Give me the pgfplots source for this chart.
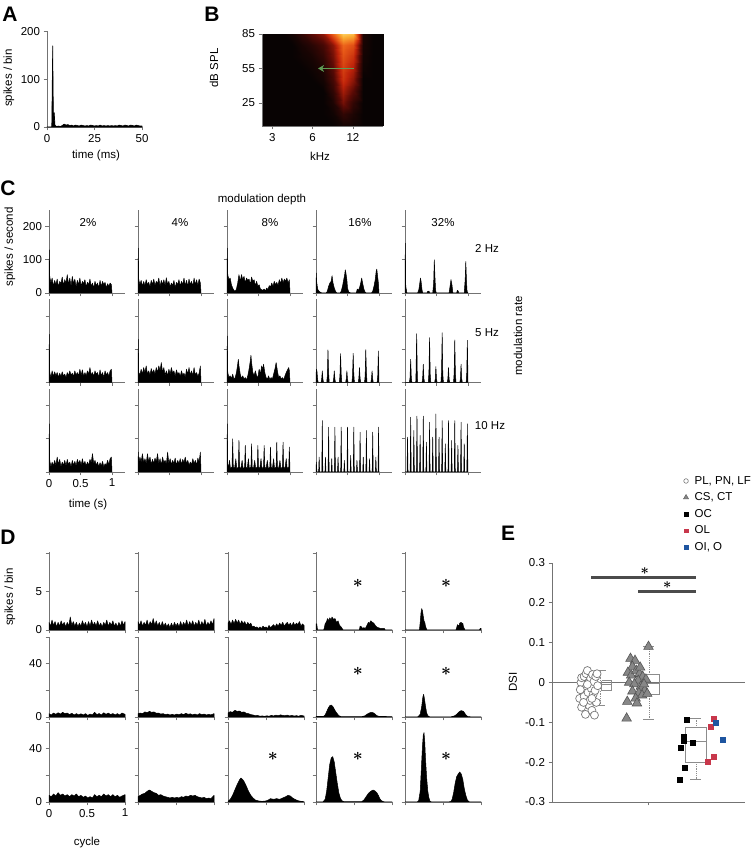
\documentclass[border=0pt]{standalone}
\usepackage{fontspec}
\setmainfont{Liberation Sans}
\usepackage{pgfplots}
\pgfplotsset{compat=1.18}
\usetikzlibrary{arrows.meta}
\definecolor{axgray}{RGB}{115,115,115}
\definecolor{sigbar}{RGB}{75,75,75}
\definecolor{olred}{RGB}{200,55,75}
\definecolor{oiblue}{RGB}{30,85,160}
\definecolor{arrowgreen}{RGB}{95,155,85}
\definecolor{trifill}{RGB}{135,135,135}
\definecolor{triedge}{RGB}{85,85,85}
\definecolor{circedge}{RGB}{120,120,120}
\definecolor{boxgray}{RGB}{140,140,140}
\newcommand{\fs}{\fontsize{11.5}{13.5}\selectfont}
\newcommand{\lett}{\fontsize{21}{21}\selectfont\bfseries}
\pgfplotsset{
  panel/.style={scale only axis, anchor=south west, axis lines=left,
    axis line style={-, draw=axgray, line width=0.9pt},
    tick align=outside, major tick length=3.5pt,
    tick style={draw=axgray, line width=0.9pt},
    enlargelimits=false, ticklabel style={font=\fs, text=black}, clip=false},
  cpan/.style={panel, width=75.6pt, height=83pt, xmin=0, xmax=1.2, ymin=0, ymax=250,
    xtick={0,0.5,1}, ytick={0,100,200}, xticklabels={,,}, yticklabels={,,}},
  dpan/.style={panel, width=76pt, xmin=0, xmax=1, ymin=0, xtick={0,0.5,1},
    xticklabels={,,}},
  dA/.style={dpan, height=78pt, ymax=10.2, ytick={0,5,10}, yticklabels={,,}},
  dB/.style={dpan, height=80pt, ymax=60, ytick={0,20,40,60}, yticklabels={,,,}},
  hist/.style={fill=black, draw=black, line width=0.5pt, line join=round},
}
\newcommand{\hpanel}[5]{\begin{axis}[at={(#1pt,#2pt)},#3]
\addplot[hist] coordinates {#4}\closedcycle;
#5
\end{axis}}
\DeclareRobustCommand{\bast}[1]{{\fontsize{#1}{#1}\selectfont\mathversion{bold}$\ast$}}
\newcommand{\astk}{\bast{19}}
\begin{document}
\begin{tikzpicture}
\useasboundingbox (0,0) rectangle (752pt,853pt);
% ---------------- A ----------------
\begin{axis}[panel, at={(47pt,726pt)}, width=95pt, height=95.5pt, xmin=0, xmax=50, ymin=0, ymax=200,
  xtick={0,25,50}, xticklabels={0,25,50}, ytick={0,100,200}, yticklabels={0,100,200}]
\addplot[hist, line width=0.6pt] coordinates {(0,0)(2.5,0)(3,170)(3.4,8)(3.8,30)(4.2,4)(5,1)(6,2)(7,1)(8,3)(9,6)(10,4)(11,5)(12,3)(13,4)(14,2)(15,4)(16,3)(17,2)(18,4)(19,3)(20,2)(21,3)(22,2)(23,4)(24,3)(25,2)(26,3)(27,2)(28,4)(29,2)(30,3)(31,2)(32,3)(33,2)(34,3)(35,2)(36,3)(37,2)(38,4)(39,3)(40,2)(41,4)(42,3)(43,2)(44,4)(45,3)(46,2)(47,4)(48,3)(49,2)(50,2)} \closedcycle;
\end{axis}
% ---------------- B ----------------
\begin{axis}[panel, at={(262pt,727pt)}, width=121pt, height=92pt, xmin=1.33, xmax=4.33, ymin=5, ymax=85,
  xtick={1.585,2.585,3.585}, xticklabels={3,6,12}, ytick={25,55,85}, yticklabels={25,55,85},
  colormap={hotmap}{rgb255(0pt)=(8,3,3) rgb255(20pt)=(90,10,5) rgb255(40pt)=(190,35,10) rgb255(60pt)=(235,95,25) rgb255(80pt)=(250,170,50) rgb255(100pt)=(255,235,130)},
  point meta min=0, point meta max=1, axis on top]
\addplot[surf, shader=interp, mesh/cols=13, point meta=explicit] table[meta=c] {
x y c
1.33 5 0
1.58 5 0
1.83 5 0
2.08 5 0
2.33 5 0
2.58 5 0
2.83 5 0
3.08 5 0
3.33 5 0.03
3.58 5 0.02
3.83 5 0
4.08 5 0
4.33 5 0
1.33 15 0
1.58 15 0
1.83 15 0
2.08 15 0
2.33 15 0
2.58 15 0
2.83 15 0
3.08 15 0.02
3.33 15 0.1
3.58 15 0.05
3.83 15 0
4.08 15 0
4.33 15 0
1.33 25 0
1.58 25 0
1.83 25 0
2.08 25 0
2.33 25 0
2.58 25 0
2.83 25 0
3.08 25 0.05
3.33 25 0.25
3.58 25 0.1
3.83 25 0
4.08 25 0
4.33 25 0
1.33 35 0
1.58 35 0
1.83 35 0
2.08 35 0
2.33 35 0
2.58 35 0
2.83 35 0
3.08 35 0.1
3.33 35 0.35
3.58 35 0.2
3.83 35 0
4.08 35 0
4.33 35 0
1.33 45 0
1.58 45 0
1.83 45 0
2.08 45 0
2.33 45 0
2.58 45 0
2.83 45 0.03
3.08 45 0.15
3.33 45 0.45
3.58 45 0.3
3.83 45 0
4.08 45 0
4.33 45 0
1.33 55 0
1.58 55 0
1.83 55 0
2.08 55 0
2.33 55 0
2.58 55 0.02
2.83 55 0.06
3.08 55 0.2
3.33 55 0.5
3.58 55 0.38
3.83 55 0.02
4.08 55 0
4.33 55 0
1.33 65 0
1.58 65 0
1.83 65 0
2.08 65 0
2.33 65 0.02
2.58 65 0.04
2.83 65 0.1
3.08 65 0.25
3.33 65 0.55
3.58 65 0.45
3.83 65 0.03
4.08 65 0
4.33 65 0
1.33 75 0
1.58 75 0
1.83 75 0
2.08 75 0
2.33 75 0.04
2.58 75 0.08
2.83 75 0.15
3.08 75 0.3
3.33 75 0.62
3.58 75 0.55
3.83 75 0.04
4.08 75 0
4.33 75 0
1.33 85 0
1.58 85 0
1.83 85 0
2.08 85 0.03
2.33 85 0.1
2.58 85 0.2
2.83 85 0.3
3.08 85 0.6
3.33 85 0.9
3.58 85 0.85
3.83 85 0.05
4.08 85 0
4.33 85 0
};
\addplot[-{Stealth[length=6pt,width=7pt]}, draw=arrowgreen, line width=1.6pt] coordinates {(3.61,55) (2.72,55)};
\end{axis}
% ---------------- C ----------------
% row 1 (2 Hz)
\hpanel{49}{560}{cpan, yticklabels={0,100,200}}{(0,0)(0.005,130)(0.012,50)(0.03,30)(0.05,45)(0.07,20)(0.09,38)(0.11,25)(0.13,42)(0.15,18)(0.17,35)(0.19,28)(0.21,48)(0.23,22)(0.25,40)(0.27,30)(0.29,55)(0.31,25)(0.33,45)(0.35,20)(0.37,50)(0.39,28)(0.41,42)(0.43,18)(0.45,38)(0.47,25)(0.49,45)(0.51,20)(0.53,35)(0.55,28)(0.57,40)(0.59,18)(0.61,32)(0.63,25)(0.65,42)(0.67,20)(0.69,30)(0.71,15)(0.73,35)(0.75,22)(0.77,30)(0.79,15)(0.81,38)(0.83,20)(0.85,35)(0.87,25)(0.89,32)(0.91,15)(0.93,28)(0.95,20)(0.97,30)(0.99,25)(1,0)}{}
\hpanel{138}{560}{cpan}{(0,0)(0.005,135)(0.012,40)(0.03,25)(0.05,38)(0.07,20)(0.09,35)(0.11,22)(0.13,40)(0.15,25)(0.17,32)(0.19,18)(0.21,38)(0.23,25)(0.25,42)(0.27,22)(0.29,35)(0.31,28)(0.33,45)(0.35,20)(0.37,38)(0.39,25)(0.41,40)(0.43,22)(0.45,46)(0.47,25)(0.49,35)(0.51,18)(0.53,30)(0.55,22)(0.57,38)(0.59,15)(0.61,32)(0.63,25)(0.65,40)(0.67,20)(0.69,35)(0.71,25)(0.73,45)(0.75,22)(0.77,38)(0.79,20)(0.81,42)(0.83,25)(0.85,35)(0.87,20)(0.89,45)(0.91,25)(0.93,40)(0.95,22)(0.97,42)(0.99,30)(1,0)}{}
\hpanel{227}{560}{cpan}{(0,0)(0.005,135)(0.012,55)(0.03,40)(0.05,45)(0.07,25)(0.09,15)(0.11,8)(0.13,5)(0.15,12)(0.17,30)(0.19,55)(0.21,35)(0.23,55)(0.25,40)(0.27,50)(0.29,30)(0.31,45)(0.33,38)(0.35,42)(0.37,25)(0.39,48)(0.41,35)(0.43,40)(0.45,22)(0.47,35)(0.49,20)(0.51,25)(0.53,12)(0.55,10)(0.57,8)(0.59,12)(0.61,6)(0.63,15)(0.65,10)(0.67,22)(0.69,18)(0.71,30)(0.73,20)(0.75,35)(0.77,25)(0.79,32)(0.81,22)(0.83,40)(0.85,28)(0.87,45)(0.89,30)(0.91,42)(0.93,35)(0.95,45)(0.97,30)(0.99,40)(1,0)}{}
\hpanel{316}{560}{cpan}{(0,0)(0.005,60)(0.01,35)(0.02,20)(0.03,10)(0.05,5)(0.07,2)(0.1,0)(0.16,0)(0.18,5)(0.2,20)(0.22,30)(0.24,35)(0.255,52)(0.27,30)(0.29,15)(0.31,5)(0.33,0)(0.38,0)(0.4,5)(0.42,20)(0.44,40)(0.455,55)(0.465,70)(0.475,60)(0.49,40)(0.5,15)(0.52,3)(0.55,0)(0.64,0)(0.655,12)(0.67,8)(0.69,15)(0.71,30)(0.725,45)(0.74,30)(0.76,12)(0.78,2)(0.8,0)(0.88,0)(0.9,5)(0.92,20)(0.94,40)(0.955,65)(0.965,72)(0.975,55)(0.99,30)(1,0)}{}
\hpanel{405}{560}{cpan}{(0,0)(0.005,150)(0.012,20)(0.03,0)(0.2,0)(0.22,10)(0.235,30)(0.245,45)(0.255,35)(0.27,10)(0.28,0)(0.35,0)(0.36,5)(0.37,4)(0.38,6)(0.39,0)(0.44,0)(0.455,30)(0.465,100)(0.475,50)(0.485,10)(0.495,0)(0.7,0)(0.715,20)(0.73,40)(0.745,25)(0.76,0)(0.82,0)(0.83,8)(0.845,6)(0.85,0)(0.94,0)(0.955,40)(0.965,95)(0.975,40)(0.985,5)(1,0)}{}
% row 2 (5 Hz)
\hpanel{49}{470.5}{cpan}{(0,0)(0.005,145)(0.012,30)(0.03,15)(0.05,35)(0.07,18)(0.09,32)(0.11,20)(0.13,30)(0.15,15)(0.17,28)(0.19,18)(0.21,32)(0.23,20)(0.25,25)(0.27,15)(0.29,30)(0.31,20)(0.33,35)(0.35,22)(0.37,28)(0.39,18)(0.41,35)(0.43,22)(0.45,30)(0.47,20)(0.49,40)(0.51,22)(0.53,38)(0.55,18)(0.57,30)(0.59,20)(0.61,35)(0.63,25)(0.65,45)(0.67,22)(0.69,30)(0.71,18)(0.73,35)(0.75,25)(0.77,30)(0.79,15)(0.81,38)(0.83,20)(0.85,30)(0.87,15)(0.89,35)(0.91,22)(0.93,30)(0.95,18)(0.97,35)(0.99,40)(1,0)}{}
\hpanel{138}{470.5}{cpan}{(0,0)(0.005,130)(0.012,30)(0.03,22)(0.05,40)(0.07,25)(0.09,45)(0.11,30)(0.13,50)(0.15,25)(0.17,35)(0.19,22)(0.21,42)(0.23,28)(0.25,38)(0.27,25)(0.29,45)(0.31,30)(0.33,50)(0.35,35)(0.37,60)(0.39,30)(0.41,45)(0.43,22)(0.45,35)(0.47,20)(0.49,40)(0.51,25)(0.53,45)(0.55,28)(0.57,35)(0.59,18)(0.61,38)(0.63,25)(0.65,30)(0.67,18)(0.69,35)(0.71,22)(0.73,28)(0.75,15)(0.77,40)(0.79,25)(0.81,45)(0.83,22)(0.85,35)(0.87,20)(0.89,45)(0.91,22)(0.93,30)(0.95,18)(0.97,28)(0.99,50)(1,0)}{}
\hpanel{227}{470.5}{cpan}{(0,0)(0.005,140)(0.012,30)(0.03,15)(0.05,20)(0.07,12)(0.09,25)(0.11,10)(0.13,15)(0.15,30)(0.17,55)(0.18,70)(0.19,50)(0.21,25)(0.23,12)(0.25,20)(0.27,10)(0.29,15)(0.31,8)(0.33,20)(0.35,40)(0.37,65)(0.38,82)(0.39,60)(0.41,30)(0.43,20)(0.45,35)(0.47,20)(0.49,15)(0.51,40)(0.53,25)(0.55,50)(0.57,40)(0.58,55)(0.6,30)(0.62,15)(0.64,10)(0.66,20)(0.68,8)(0.7,15)(0.72,10)(0.74,25)(0.76,40)(0.78,60)(0.8,35)(0.82,15)(0.84,20)(0.86,10)(0.88,15)(0.9,8)(0.92,20)(0.94,30)(0.96,38)(0.98,45)(0.99,35)(1,0)}{}
\hpanel{316}{470.5}{cpan}{(0,0)(0.005,40)(0.015,35)(0.025,10)(0.035,0)(0.08,0)(0.09,10)(0.1,35)(0.11,10)(0.12,0)(0.17,0)(0.18,20)(0.19,98)(0.2,30)(0.21,0)(0.27,0)(0.28,10)(0.29,35)(0.3,10)(0.31,0)(0.37,0)(0.38,20)(0.39,87)(0.4,25)(0.41,0)(0.47,0)(0.48,10)(0.49,35)(0.5,10)(0.51,0)(0.57,0)(0.58,20)(0.59,88)(0.6,25)(0.61,0)(0.67,0)(0.68,12)(0.69,45)(0.7,12)(0.71,0)(0.77,0)(0.78,20)(0.79,99)(0.8,30)(0.81,0)(0.87,0)(0.88,10)(0.89,35)(0.9,10)(0.91,0)(0.97,0)(0.98,20)(0.99,95)(1,0)}{}
\hpanel{405}{470.5}{cpan}{(0,0)(0.07,0)(0.08,15)(0.09,70)(0.1,15)(0.11,0)(0.17,0)(0.175,30)(0.185,147)(0.195,25)(0.2,0)(0.27,0)(0.28,12)(0.29,55)(0.3,12)(0.31,0)(0.37,0)(0.38,30)(0.39,135)(0.4,25)(0.41,0)(0.47,0)(0.48,10)(0.49,48)(0.5,10)(0.51,0)(0.57,0)(0.58,30)(0.59,150)(0.6,25)(0.61,0)(0.67,0)(0.68,10)(0.69,45)(0.7,10)(0.71,0)(0.77,0)(0.78,28)(0.79,128)(0.8,25)(0.81,0)(0.87,0)(0.88,12)(0.89,55)(0.9,12)(0.91,0)(0.97,0)(0.98,28)(0.99,127)(1,0)}{}
% row 3 (10 Hz)
\hpanel{49}{381}{cpan, xticklabels={0,0.5,1}}{(0,0)(0.005,145)(0.012,35)(0.03,15)(0.05,30)(0.07,18)(0.09,35)(0.11,20)(0.13,45)(0.15,22)(0.17,38)(0.19,15)(0.21,30)(0.23,20)(0.25,35)(0.27,18)(0.29,38)(0.31,22)(0.33,30)(0.35,15)(0.37,35)(0.39,20)(0.41,32)(0.43,18)(0.45,38)(0.47,25)(0.49,35)(0.51,20)(0.53,40)(0.55,22)(0.57,32)(0.59,18)(0.61,30)(0.63,20)(0.65,38)(0.67,28)(0.69,55)(0.71,25)(0.73,35)(0.75,20)(0.77,30)(0.79,15)(0.81,28)(0.83,18)(0.85,32)(0.87,15)(0.89,25)(0.91,20)(0.93,35)(0.95,22)(0.97,40)(0.99,45)(1,0)}{}
\hpanel{138}{381}{cpan}{(0,0)(0.005,60)(0.012,25)(0.03,45)(0.05,30)(0.07,55)(0.09,28)(0.11,40)(0.13,25)(0.15,55)(0.17,30)(0.19,45)(0.21,22)(0.23,38)(0.25,25)(0.27,42)(0.29,30)(0.31,55)(0.33,25)(0.35,40)(0.37,20)(0.39,45)(0.41,28)(0.43,35)(0.45,22)(0.47,60)(0.49,25)(0.51,40)(0.53,22)(0.55,35)(0.57,25)(0.59,42)(0.61,20)(0.63,35)(0.65,25)(0.67,40)(0.69,22)(0.71,38)(0.73,28)(0.75,45)(0.77,25)(0.79,35)(0.81,20)(0.83,30)(0.85,22)(0.87,40)(0.89,25)(0.91,35)(0.93,20)(0.95,42)(0.97,30)(0.99,60)(1,0)}{}
\hpanel{227}{381}{cpan}{(0,0)(0.005,145)(0.012,20)(0.02,10)(0.04,35)(0.055,10)(0.08,15)(0.09,100)(0.1,15)(0.12,10)(0.14,40)(0.155,10)(0.18,15)(0.19,95)(0.2,15)(0.22,10)(0.24,35)(0.255,10)(0.28,15)(0.29,80)(0.3,15)(0.32,10)(0.34,40)(0.355,10)(0.38,15)(0.39,85)(0.4,15)(0.42,10)(0.44,35)(0.455,10)(0.48,15)(0.49,80)(0.5,15)(0.52,10)(0.54,40)(0.555,10)(0.58,15)(0.59,80)(0.6,15)(0.62,10)(0.64,35)(0.655,10)(0.68,15)(0.69,75)(0.7,15)(0.72,10)(0.74,40)(0.755,10)(0.78,15)(0.79,90)(0.8,15)(0.82,10)(0.84,35)(0.855,10)(0.88,15)(0.89,90)(0.9,15)(0.92,10)(0.94,40)(0.955,10)(0.98,15)(0.99,75)(1,0)}{}
\hpanel{316}{381}{cpan}{(0,0)(0.005,30)(0.015,0)(0.042,0)(0.05,45)(0.058,0)(0.092,0)(0.1,155)(0.108,0)(0.142,0)(0.15,45)(0.158,0)(0.192,0)(0.2,135)(0.208,0)(0.242,0)(0.25,40)(0.258,0)(0.292,0)(0.3,135)(0.308,0)(0.342,0)(0.35,45)(0.358,0)(0.392,0)(0.4,135)(0.408,0)(0.442,0)(0.45,35)(0.458,0)(0.492,0)(0.5,135)(0.508,0)(0.542,0)(0.55,50)(0.558,0)(0.592,0)(0.6,135)(0.608,0)(0.642,0)(0.65,35)(0.658,0)(0.692,0)(0.7,120)(0.708,0)(0.742,0)(0.75,45)(0.758,0)(0.792,0)(0.8,125)(0.808,0)(0.842,0)(0.85,40)(0.858,0)(0.892,0)(0.9,120)(0.908,0)(0.942,0)(0.95,45)(0.958,0)(0.985,0)(0.993,135)(1.0,0)}{}
\hpanel{405}{381}{cpan}{(0,0)(0.032,0)(0.04,105)(0.048,0)(0.082,0)(0.09,165)(0.098,0)(0.132,0)(0.14,125)(0.148,0)(0.182,0)(0.19,168)(0.198,0)(0.232,0)(0.24,110)(0.248,0)(0.282,0)(0.29,168)(0.298,0)(0.332,0)(0.34,90)(0.348,0)(0.382,0)(0.39,150)(0.398,0)(0.432,0)(0.44,105)(0.448,0)(0.482,0)(0.49,175)(0.498,0)(0.532,0)(0.54,105)(0.548,0)(0.582,0)(0.59,155)(0.598,0)(0.632,0)(0.64,85)(0.648,0)(0.682,0)(0.69,155)(0.698,0)(0.732,0)(0.74,95)(0.748,0)(0.782,0)(0.79,155)(0.798,0)(0.832,0)(0.84,80)(0.848,0)(0.882,0)(0.89,150)(0.898,0)(0.932,0)(0.94,85)(0.948,0)(0.982,0)(0.99,145)(0.998,0)(1,0)}{}
% ---------------- D ----------------
% row 1
\hpanel{49}{223}{dA, yticklabels={0,5,{}}}{(0,0)(0,1.0)(0.02,0.5)(0.04,1.3)(0.06,0.6)(0.08,1.1)(0.1,0.4)(0.12,1.0)(0.14,0.5)(0.16,1.2)(0.18,0.6)(0.2,1.0)(0.22,0.4)(0.24,1.0)(0.26,0.5)(0.28,1.7)(0.3,0.6)(0.32,1.1)(0.34,0.5)(0.36,1.0)(0.38,0.4)(0.4,0.9)(0.42,0.5)(0.44,1.2)(0.46,0.6)(0.48,1.0)(0.5,0.4)(0.52,1.1)(0.54,0.5)(0.56,1.3)(0.58,0.6)(0.6,1.0)(0.62,0.5)(0.64,1.2)(0.66,0.5)(0.68,0.9)(0.7,0.4)(0.72,1.0)(0.74,0.6)(0.76,1.3)(0.78,0.5)(0.8,1.0)(0.82,0.6)(0.84,1.2)(0.86,0.5)(0.88,0.9)(0.9,0.4)(0.92,1.0)(0.94,0.5)(0.96,1.2)(0.98,0.6)(1,1.1)(1,0)}{}
\hpanel{138}{223}{dA}{(0,0)(0,1.1)(0.02,0.6)(0.04,1.2)(0.06,0.5)(0.08,1.0)(0.1,0.6)(0.12,1.3)(0.14,0.5)(0.16,1.1)(0.18,0.7)(0.2,1.5)(0.22,0.6)(0.24,1.2)(0.26,0.5)(0.28,1.0)(0.3,0.4)(0.32,1.1)(0.34,0.5)(0.36,0.9)(0.38,0.4)(0.4,0.8)(0.42,0.3)(0.44,0.9)(0.46,0.4)(0.48,1.0)(0.5,0.5)(0.52,0.9)(0.54,0.4)(0.56,1.1)(0.58,0.5)(0.6,1.0)(0.62,0.6)(0.64,1.3)(0.66,0.5)(0.68,1.1)(0.7,0.6)(0.72,1.2)(0.74,0.5)(0.76,1.0)(0.78,0.6)(0.8,1.3)(0.82,0.5)(0.84,1.1)(0.86,0.6)(0.88,1.4)(0.9,0.5)(0.92,1.0)(0.94,0.6)(0.96,1.2)(0.98,0.7)(1,1.5)(1,0)}{}
\hpanel{228}{223}{dA}{(0,0)(0,0.9)(0.02,1.2)(0.04,0.7)(0.06,1.3)(0.08,0.8)(0.1,1.4)(0.12,0.9)(0.14,1.3)(0.16,0.7)(0.18,1.2)(0.2,0.8)(0.22,1.1)(0.24,0.6)(0.26,1.0)(0.28,0.7)(0.3,0.9)(0.32,0.4)(0.34,0.5)(0.36,0.3)(0.38,0.4)(0.4,0.2)(0.42,0.4)(0.44,0.2)(0.46,0.5)(0.48,0.3)(0.5,0.4)(0.52,0.2)(0.54,0.6)(0.56,0.3)(0.58,0.5)(0.6,0.7)(0.62,0.4)(0.64,0.8)(0.66,0.5)(0.68,0.9)(0.7,0.6)(0.72,1.0)(0.74,0.5)(0.76,0.8)(0.78,1.0)(0.8,0.6)(0.82,0.9)(0.84,0.5)(0.86,1.0)(0.88,0.6)(0.9,0.9)(0.92,0.7)(0.94,1.1)(0.96,0.5)(0.98,0.8)(1,0.6)(1,0)}{}
\hpanel{316}{223}{dA}{(0,0)(0,0.8)(0.01,0.8)(0.02,0)(0.1,0)(0.11,0.3)(0.12,0.8)(0.14,1.1)(0.15,1.5)(0.17,1.2)(0.18,1.6)(0.2,1.3)(0.21,1.7)(0.23,1.4)(0.25,1.5)(0.27,1.0)(0.29,1.2)(0.31,0.6)(0.33,0.4)(0.35,0.1)(0.36,0)(0.57,0)(0.58,0.5)(0.6,0.4)(0.61,0.2)(0.63,0.3)(0.65,0.2)(0.67,0.6)(0.69,1.0)(0.7,0.8)(0.72,1.2)(0.74,1.0)(0.76,0.9)(0.78,0.6)(0.8,0.4)(0.82,0.3)(0.85,0.2)(0.9,0.2)(0.91,0)(1,0)}{\node at (axis cs:0.55,6.1) {\astk};}
\hpanel{405}{223}{dA}{(0,0)(0.19,0)(0.2,1.0)(0.21,2.2)(0.22,2.8)(0.23,2.5)(0.24,1.8)(0.25,1.2)(0.26,1.0)(0.27,0.5)(0.28,0.2)(0.29,0)(0.67,0)(0.68,0.3)(0.69,0.7)(0.71,0.5)(0.72,0.9)(0.74,1.0)(0.75,0.8)(0.76,0.9)(0.77,0.4)(0.78,0.2)(0.79,0)(0.98,0)(0.99,0.2)(1,0.2)(1,0)}{\node at (axis cs:0.54,6.1) {\astk};}
% row 2
\hpanel{49}{136}{dB, yticklabels={0,{},40,{}}}{(0,0)(0,2.5)(0.03,1.5)(0.06,3.0)(0.09,2.0)(0.12,3.2)(0.15,2.2)(0.18,3.5)(0.21,2.5)(0.24,3.0)(0.27,1.8)(0.3,2.8)(0.33,1.5)(0.36,2.5)(0.39,1.6)(0.42,2.4)(0.45,1.5)(0.48,2.5)(0.51,1.2)(0.54,2.2)(0.57,1.5)(0.6,3.5)(0.63,1.8)(0.66,2.6)(0.69,1.5)(0.72,3.2)(0.75,2.0)(0.78,3.0)(0.81,1.8)(0.84,2.6)(0.87,1.6)(0.9,2.5)(0.93,1.5)(0.96,3.0)(1,2.0)(1,0)}{}
\hpanel{138}{136}{dB}{(0,0)(0,2.5)(0.03,3.0)(0.06,2.5)(0.09,3.8)(0.12,3.2)(0.15,4.2)(0.18,3.5)(0.21,3.8)(0.24,2.8)(0.27,3.0)(0.3,2.2)(0.33,2.5)(0.36,1.8)(0.39,2.2)(0.42,1.5)(0.45,2.0)(0.48,1.5)(0.51,2.2)(0.54,1.6)(0.57,2.5)(0.6,1.8)(0.63,2.8)(0.66,2.0)(0.69,2.4)(0.72,1.6)(0.75,2.2)(0.78,1.5)(0.81,2.5)(0.84,1.8)(0.87,2.2)(0.9,1.5)(0.93,2.0)(0.96,1.6)(1,2.5)(1,0)}{}
\hpanel{228}{136}{dB}{(0,0)(0,3.0)(0.03,4.0)(0.06,3.5)(0.09,5.0)(0.12,4.2)(0.15,4.5)(0.18,3.5)(0.21,3.8)(0.24,2.8)(0.27,2.5)(0.3,1.8)(0.33,1.5)(0.36,1.0)(0.39,1.2)(0.42,0.6)(0.45,0.8)(0.48,0.5)(0.51,0.9)(0.54,0.6)(0.57,1.2)(0.6,0.8)(0.63,1.4)(0.66,1.0)(0.69,1.6)(0.72,1.2)(0.75,1.0)(0.78,1.4)(0.81,0.8)(0.84,1.2)(0.87,0.7)(0.9,1.0)(0.93,0.6)(0.96,1.2)(1,0.8)(1,0)}{}
\hpanel{316}{136}{dB}{(0,0)(0,0.5)(0.05,0.4)(0.1,0.5)(0.12,1.5)(0.14,4.0)(0.16,6.5)(0.18,8.5)(0.2,9.0)(0.22,8.0)(0.24,6.0)(0.26,4.0)(0.28,2.5)(0.3,1.0)(0.33,0.3)(0.4,0.2)(0.5,0.2)(0.6,0.3)(0.64,0.8)(0.67,2.0)(0.7,3.0)(0.73,3.5)(0.76,3.0)(0.78,2.0)(0.8,1.0)(0.83,0.5)(0.9,0.4)(1,0.3)(1,0)}{\node at (axis cs:0.55,34) {\astk};}
\hpanel{405}{136}{dB}{(0,0)(0.1,0)(0.17,0.2)(0.2,2.0)(0.22,8.0)(0.235,15.0)(0.245,17.0)(0.255,14.0)(0.27,8.0)(0.285,3.0)(0.3,1.0)(0.32,0.2)(0.4,0)(0.6,0.1)(0.65,0.8)(0.68,2.0)(0.71,3.8)(0.74,4.8)(0.77,4.2)(0.79,2.5)(0.81,1.0)(0.83,0.3)(0.9,0)(1,0)}{\node at (axis cs:0.54,34) {\astk};}
% row 3
\hpanel{49}{51}{dB, yticklabels={0,{},40,{}}, xticklabels={0,0.5,1}}{(0,0)(0,5.0)(0.03,4.0)(0.06,6.0)(0.09,4.5)(0.12,7.0)(0.15,5.0)(0.18,6.0)(0.21,4.5)(0.24,5.5)(0.27,4.0)(0.3,5.5)(0.33,4.5)(0.36,6.0)(0.39,4.0)(0.42,5.0)(0.45,3.5)(0.48,4.5)(0.51,3.0)(0.54,4.0)(0.57,3.0)(0.6,5.5)(0.63,4.0)(0.66,5.0)(0.69,4.0)(0.72,6.0)(0.75,4.5)(0.78,5.5)(0.81,4.0)(0.84,5.5)(0.87,4.0)(0.9,5.0)(0.93,3.5)(0.96,4.5)(1,5.5)(1,0)}{}
\hpanel{138}{51}{dB}{(0,0)(0,4.0)(0.03,5.0)(0.06,6.0)(0.09,6.5)(0.12,8.0)(0.15,9.0)(0.18,8.0)(0.21,7.0)(0.24,6.5)(0.27,5.0)(0.3,5.5)(0.33,4.5)(0.36,4.0)(0.39,3.5)(0.42,3.0)(0.45,3.5)(0.48,3.0)(0.51,3.5)(0.54,3.0)(0.57,4.0)(0.6,3.5)(0.63,4.5)(0.66,4.0)(0.69,5.0)(0.72,4.5)(0.75,5.0)(0.78,4.0)(0.81,3.5)(0.84,3.0)(0.87,3.5)(0.9,2.5)(0.93,3.0)(0.96,2.5)(1,5.0)(1,0)}{}
\hpanel{228}{51}{dB}{(0,0)(0,0.5)(0.03,2.0)(0.06,5.0)(0.09,9.0)(0.12,13.0)(0.15,16.5)(0.17,18.0)(0.19,17.0)(0.21,15.5)(0.24,12.0)(0.27,8.0)(0.3,5.0)(0.33,3.0)(0.36,1.5)(0.4,0.8)(0.45,0.5)(0.5,0.8)(0.53,1.5)(0.56,2.5)(0.6,2.0)(0.64,2.5)(0.68,2.0)(0.72,3.0)(0.76,4.0)(0.79,5.0)(0.82,4.5)(0.85,3.0)(0.88,2.0)(0.92,1.0)(0.96,0.5)(1,0.3)(1,0)}{\node at (axis cs:0.59,34) {\astk};}
\hpanel{316}{51}{dB}{(0,0)(0.09,0)(0.12,2.0)(0.14,8.0)(0.16,18.0)(0.18,28.0)(0.2,33.0)(0.22,34.0)(0.24,30.0)(0.26,22.0)(0.28,14.0)(0.3,7.0)(0.32,3.0)(0.34,1.0)(0.37,0.2)(0.6,0.2)(0.63,1.5)(0.66,4.0)(0.69,6.5)(0.72,8.0)(0.75,9.0)(0.77,8.5)(0.8,7.0)(0.82,5.0)(0.84,2.5)(0.86,1.0)(0.89,0.2)(1,0)}{\node at (axis cs:0.55,34) {\astk};}
\hpanel{405}{51}{dB}{(0,0)(0.16,0)(0.18,1.0)(0.2,8.0)(0.215,25.0)(0.23,42.0)(0.24,50.0)(0.25,52.0)(0.26,45.0)(0.27,32.0)(0.285,18.0)(0.3,8.0)(0.315,3.0)(0.33,0.5)(0.35,0)(0.6,0.2)(0.62,2.0)(0.64,7.0)(0.66,14.0)(0.68,19.0)(0.7,21.0)(0.72,22.5)(0.74,21.0)(0.76,17.0)(0.78,10.0)(0.8,5.0)(0.82,1.5)(0.84,0.3)(0.86,0)(1,0)}{\node at (axis cs:0.54,34) {\astk};}
% ---------------- E ----------------
\begin{axis}[panel, at={(552pt,51pt)}, width=193pt, height=239pt, xmin=0.5, xmax=3.5, ymin=-0.3, ymax=0.3,
  xtick={2}, xticklabels={{}}, ytick={-0.3,-0.2,-0.1,0,0.1,0.2,0.3}, yticklabels={-0.3,-0.2,-0.1,0,0.1,0.2,0.3},
  legend style={at={(0.68,1.372)}, anchor=north west, draw=none, fill=none, font=\fs, row sep=3pt, column sep=4pt, inner sep=0pt, cells={anchor=west}},
  legend image code/.code={\draw[#1] plot coordinates {(3pt,0pt)};}]
\addplot[axgray, line width=0.9pt, forget plot] coordinates {(0.5,0) (3.5,0)};
% box 1
\addplot[boxgray, densely dotted, line width=0.8pt, forget plot] coordinates {(1.25,0.004) (1.25,0.03)};
\addplot[boxgray, densely dotted, line width=0.8pt, forget plot] coordinates {(1.25,-0.021) (1.25,-0.058)};
\addplot[boxgray, line width=0.8pt, forget plot] coordinates {(1.16,0.03) (1.34,0.03)};
\addplot[boxgray, line width=0.8pt, forget plot] coordinates {(1.15,-0.058) (1.33,-0.058)};
% box 2
\addplot[boxgray, densely dotted, line width=0.8pt, forget plot] coordinates {(2.01,0.019) (2.01,0.09)};
\addplot[boxgray, densely dotted, line width=0.8pt, forget plot] coordinates {(2.01,-0.029) (2.01,-0.093)};
\addplot[boxgray, line width=0.8pt, forget plot] coordinates {(1.92,0.09) (2.09,0.09)};
\addplot[boxgray, line width=0.8pt, forget plot] coordinates {(1.92,-0.093) (2.09,-0.093)};
% box 3
\addplot[boxgray, densely dotted, line width=0.8pt, forget plot] coordinates {(2.75,-0.113) (2.75,-0.09)};
\addplot[boxgray, densely dotted, line width=0.8pt, forget plot] coordinates {(2.75,-0.2) (2.75,-0.243)};
\addplot[boxgray, line width=0.8pt, forget plot] coordinates {(2.65,-0.09) (2.81,-0.09)};
\addplot[boxgray, line width=0.8pt, forget plot] coordinates {(2.65,-0.243) (2.81,-0.243)};
% points
\addplot[only marks, mark=*, mark size=4pt, mark options={fill=white, draw=circedge, line width=0.7pt}, forget plot] coordinates {(0.93,-0.04)(0.95,0.0)(0.96,0.012)(0.96,-0.062)(0.98,-0.02)(1.0,0.015)(1.0,-0.035)(1.02,-0.08)(1.03,0.022)(1.04,-0.01)(1.05,0.03)(1.06,-0.025)(1.07,0.0)(1.08,-0.058)(1.09,-0.045)(1.1,0.01)(1.11,-0.015)(1.12,-0.07)(1.13,0.02)(1.14,-0.03)(1.15,0.002)(1.16,-0.082)(1.17,-0.02)(1.18,0.015)(1.19,-0.05)(1.2,0.022)(1.21,-0.008)(0.99,-0.05)(1.05,-0.005)(1.12,-0.04)(0.94,-0.018)};
\addplot[only marks, mark=triangle*, mark size=5.5pt, mark options={fill=trifill, draw=triedge, line width=0.6pt}, forget plot] coordinates {(2.0,0.09)(1.72,0.06)(1.79,0.055)(1.75,0.04)(1.68,0.025)(1.73,0.018)(1.81,0.03)(1.86,0.022)(1.91,0.015)(1.84,0.005)(1.96,0.008)(1.7,0.0)(1.78,-0.004)(1.88,-0.01)(1.94,-0.02)(1.75,-0.022)(1.85,-0.026)(1.9,-0.032)(1.8,-0.04)(1.67,-0.048)(1.82,-0.052)(1.66,-0.09)(1.93,-0.004)(1.87,0.038)(1.98,-0.028)};
\addplot[boxgray, line width=0.9pt, forget plot] coordinates {(1.27,0.004)(1.42,0.004)(1.42,-0.021)(1.27,-0.021)(1.27,0.004)};
\addplot[boxgray, line width=0.9pt, forget plot] coordinates {(1.27,-0.005)(1.42,-0.005)};
\addplot[boxgray, line width=0.9pt, forget plot] coordinates {(1.97,0.019)(2.17,0.019)(2.17,-0.029)(1.97,-0.029)(1.97,0.019)};
\addplot[boxgray, line width=0.9pt, forget plot] coordinates {(1.97,-0.003)(2.17,-0.003)};
\addplot[boxgray, line width=0.9pt, forget plot] coordinates {(2.57,-0.113)(2.9,-0.113)(2.9,-0.2)(2.57,-0.2)(2.57,-0.113)};
\addplot[boxgray, line width=0.9pt, forget plot] coordinates {(2.57,-0.147)(2.9,-0.147)};
\addplot[only marks, mark=square*, mark size=2.5pt, black, forget plot] coordinates {(2.48,-0.245)(2.5,-0.164)(2.54,-0.137)(2.55,-0.146)(2.56,-0.213)(2.6,-0.094)(2.69,-0.15)};
\addplot[only marks, mark=square*, mark size=2.5pt, olred, forget plot] coordinates {(3.01,-0.09)(2.96,-0.112)(2.92,-0.2)(3.02,-0.187)};
\addplot[only marks, mark=square*, mark size=2.5pt, oiblue, forget plot] coordinates {(3.05,-0.102)(3.16,-0.144)};
% significance bars
\addplot[sigbar, line width=3pt, forget plot] coordinates {(1.107,0.263) (2.74,0.263)};
\addplot[sigbar, line width=3pt, forget plot] coordinates {(1.84,0.229) (2.74,0.229)};
\node at (axis cs:1.94,0.279) {\bast{14}};
\node at (axis cs:2.29,0.245) {\bast{14}};
% legend
\addlegendimage{only marks, mark=*, mark size=2.3pt, mark options={fill=white, draw=circedge, line width=0.6pt}}
\addlegendentry{PL, PN, LF}
\addlegendimage{only marks, mark=triangle*, mark size=3pt, mark options={fill=trifill, draw=triedge}}
\addlegendentry{CS, CT}
\addlegendimage{only marks, mark=square*, mark size=1.8pt, black}
\addlegendentry{OC}
\addlegendimage{only marks, mark=square*, mark size=1.8pt, olred}
\addlegendentry{OL}
\addlegendimage{only marks, mark=square*, mark size=1.8pt, oiblue}
\addlegendentry{OI, O}
\end{axis}
% ---------------- text ----------------
\node[font=\lett] at (10pt,839pt) {A};
\node[font=\lett] at (212pt,839pt) {B};
\node[font=\lett] at (8pt,665pt) {C};
\node[font=\lett] at (8pt,316pt) {D};
\node[font=\lett] at (508pt,320pt) {E};
\node[font=\fs, rotate=90] at (9pt,775pt) {spikes / bin};
\node[font=\fs] at (96pt,697pt) {time (ms)};
\node[font=\fs, rotate=90] at (214pt,785pt) {dB SPL};
\node[font=\fs] at (320pt,697pt) {kHz};
\node[font=\fs] at (262pt,653pt) {modulation depth};
\node[font=\fs] at (88pt,630pt) {2\%};
\node[font=\fs] at (180pt,630pt) {4\%};
\node[font=\fs] at (270pt,630pt) {8\%};
\node[font=\fs] at (360pt,630pt) {16\%};
\node[font=\fs] at (443pt,630pt) {32\%};
\node[font=\fs] at (487pt,605pt) {2 Hz};
\node[font=\fs] at (487pt,520pt) {5 Hz};
\node[font=\fs] at (490pt,427pt) {10 Hz};
\node[font=\fs, rotate=90] at (518pt,517pt) {modulation rate};
\node[font=\fs, rotate=90] at (10pt,606pt) {spikes / second};
\node[font=\fs] at (88pt,348pt) {time (s)};
\node[font=\fs, rotate=90] at (10pt,256pt) {spikes / bin};
\node[font=\fs] at (87pt,10pt) {cycle};
\node[font=\fs, rotate=90] at (513pt,171pt) {DSI};
\end{tikzpicture}
\end{document}
